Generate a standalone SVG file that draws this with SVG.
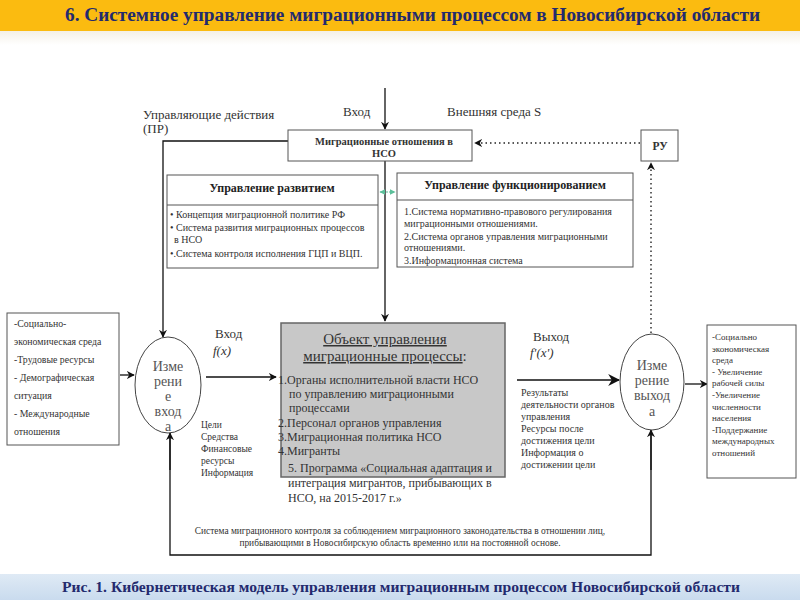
<svg xmlns="http://www.w3.org/2000/svg" width="800" height="600" viewBox="0 0 800 600" font-family="'Liberation Serif', 'Times New Roman', Tinos, 'DejaVu Serif', serif">
<style>
text{font-family:"Liberation Serif","Times New Roman",Tinos,"DejaVu Serif",serif;fill:#333}
.box{fill:#fff;stroke:#555;stroke-width:1}
.ln{fill:none;stroke:#111;stroke-width:1.3}
.dot{fill:none;stroke:#222;stroke-width:1.4;stroke-dasharray:1.5 3}
.ell{fill:#fff;stroke:#444;stroke-width:1}
.hd{font-weight:bold;font-size:12px;fill:#222}
.s9{font-size:9px}
.s10{font-size:10px}
.s98{font-size:9.8px}
.s95{font-size:9.5px}
.lbl{font-size:13px}
.et{font-size:14px;fill:#555;text-anchor:middle}
.ttl{font-weight:bold;fill:#232a6e}
</style>
<defs>
<linearGradient id="capg" x1="0" y1="0" x2="0" y2="1">
<stop offset="0" stop-color="#dfeaf5"/><stop offset="1" stop-color="#c9dbee"/>
</linearGradient>
<linearGradient id="topg" x1="0" y1="0" x2="0" y2="1">
<stop offset="0" stop-color="#f4f0e6"/><stop offset="1" stop-color="#ffffff"/>
</linearGradient>
<marker id="ar" viewBox="0 0 10 10" refX="9" refY="5" markerWidth="8" markerHeight="8" markerUnits="userSpaceOnUse" orient="auto">
<path d="M0,0 L10,5 L0,10 L3,5 z" fill="#111"/>
</marker>
<marker id="arb" viewBox="0 0 10 10" refX="9" refY="5" markerWidth="12" markerHeight="12" markerUnits="userSpaceOnUse" orient="auto">
<path d="M0,0 L10,5 L0,10 L3,5 z" fill="#111"/>
</marker>
<marker id="arg" viewBox="0 0 10 10" refX="9" refY="5" markerWidth="6" markerHeight="6" markerUnits="userSpaceOnUse" orient="auto-start-reverse">
<path d="M0,0 L10,5 L0,10 z" fill="#5cbf9a"/>
</marker>
</defs>
<rect x="0" y="0" width="800" height="600" fill="#fff"/>
<g id="title">
<rect x="0" y="0" width="800" height="31" fill="#fbbb10"/>
<rect x="0" y="31" width="800" height="14" fill="url(#topg)"/>
<text class="ttl" x="65" y="21" font-size="18" textLength="695" lengthAdjust="spacingAndGlyphs">6. Системное управление миграционными процессом в Новосибирской области</text>
</g>
<g id="caption">
<rect x="0" y="574" width="800" height="26" fill="url(#capg)"/>
<text class="ttl" x="62" y="592" font-size="14" textLength="678" lengthAdjust="spacingAndGlyphs">Рис. 1. Кибернетическая модель  управления миграционным процессом Новосибирской области</text>
</g>
<g id="labels">
<text class="lbl" x="143" y="119">Управляющие действия</text>
<text class="lbl" x="143" y="133">(ПР)</text>
<text class="lbl" x="343" y="116">Вход</text>
<text class="lbl" x="447" y="116">Внешняя среда S</text>
<text class="lbl" x="215" y="338">Вход</text>
<text class="lbl" x="213" y="355" font-style="italic">f(x)</text>
<text class="lbl" x="533" y="341">Выход</text>
<text class="lbl" x="530" y="357" font-style="italic">f'(x')</text>
<text class="s95" x="201" y="428">Цели</text>
<text class="s95" x="201" y="440">Средства</text>
<text class="s95" x="201" y="452">Финансовые</text>
<text class="s95" x="201" y="464">ресурсы</text>
<text class="s95" x="201" y="476">Информация</text>
<text class="s10" x="521" y="396">Результаты</text>
<text class="s10" x="521" y="408">деятельности органов</text>
<text class="s10" x="521" y="420">управления</text>
<text class="s10" x="521" y="432">Ресурсы после</text>
<text class="s10" x="521" y="444">достижения цели</text>
<text class="s10" x="521" y="456">Информация о</text>
<text class="s10" x="521" y="468">достижении цели</text>
<text x="400" y="534" text-anchor="middle" font-size="9.4">Система миграционного контроля за соблюдением миграционного законодательства в отношении лиц,</text>
<text x="400" y="546" text-anchor="middle" font-size="9.4">прибывающими в Новосибирскую область временно или на постоянной основе.</text>
</g>
<g id="connectors">
<line class="ln" x1="385" y1="88" x2="385" y2="129" marker-end="url(#ar)"/>
<polyline class="ln" points="288,141 163,141 163,337" marker-end="url(#ar)"/>
<line class="ln" x1="385" y1="161" x2="385" y2="321" marker-end="url(#ar)"/>
<line class="dot" x1="640" y1="143" x2="475" y2="143" marker-end="url(#ar)"/>
<line class="dot" x1="651" y1="333" x2="651" y2="163" marker-end="url(#ar)"/>
<line x1="380" y1="192" x2="395" y2="192" stroke="#5cbf9a" stroke-width="1" stroke-dasharray="2 1" marker-start="url(#arg)" marker-end="url(#arg)"/>
<line class="ln" x1="120" y1="375" x2="134" y2="375" marker-end="url(#ar)"/>
<line class="ln" x1="206" y1="377" x2="276" y2="377" marker-end="url(#ar)"/>
<line class="ln" x1="517" y1="380" x2="619" y2="380" stroke-width="3" marker-end="url(#arb)"/>
<line class="ln" x1="685" y1="384" x2="707" y2="384" marker-end="url(#ar)"/>
<polyline class="ln" points="170,433 170,555 651,555 651,430"/>
<line class="ln" x1="170" y1="470" x2="170" y2="433" marker-end="url(#ar)"/>
<line class="ln" x1="651" y1="470" x2="651" y2="430" marker-end="url(#ar)"/>
</g>
<g id="node-mig">
<rect class="box" x="288" y="130" width="184" height="31"/>
<text x="384" y="145" text-anchor="middle" font-size="10.5" font-weight="bold" fill="#222">Миграционные отношения в</text>
<text x="384" y="157" text-anchor="middle" font-size="10.5" font-weight="bold" fill="#222">НСО</text>
</g>
<g id="node-ru">
<rect class="box" x="641" y="130" width="37" height="31"/>
<text x="660" y="150" text-anchor="middle" font-size="11.5" font-weight="bold" fill="#222">РУ</text>
</g>
<g id="node-dev">
<rect class="box" x="167" y="175" width="211" height="93"/>
<line x1="167" y1="205" x2="378" y2="205" stroke="#555"/>
<text class="hd" x="272" y="192" text-anchor="middle">Управление развитием</text>
<text class="s10" x="170" y="218">• Концепция миграционной политике РФ</text>
<text class="s10" x="170" y="231">• Система развития миграционных процессов</text>
<text class="s10" x="174" y="243">в НСО</text>
<text class="s10" x="170" y="257">•.Система контроля исполнения ГЦП и ВЦП.</text>
</g>
<g id="node-func">
<rect class="box" x="397" y="173" width="236" height="94"/>
<line x1="397" y1="200" x2="633" y2="200" stroke="#555"/>
<text class="hd" x="515" y="189" text-anchor="middle">Управление функционированием</text>
<text class="s10" x="404" y="215">1.Система нормативно-правового регулирования</text>
<text class="s10" x="404" y="227">миграционными отношениями.</text>
<text class="s10" x="404" y="240">2.Система органов управления миграционными</text>
<text class="s10" x="404" y="251">отношениями.</text>
<text class="s10" x="404" y="264">3.Информационная система</text>
</g>
<g id="node-left">
<rect class="box" x="7" y="313" width="112" height="132"/>
<text class="s98" x="14" y="327">-Социально-</text>
<text class="s98" x="14" y="345">экономическая среда</text>
<text class="s98" x="14" y="363">-Трудовые ресурсы</text>
<text class="s98" x="14" y="381">- Демографическая</text>
<text class="s98" x="14" y="399">ситуация</text>
<text class="s98" x="14" y="417">- Международные</text>
<text class="s98" x="14" y="435">отношения</text>
</g>
<g id="node-in">
<ellipse class="ell" cx="168" cy="385" rx="33" ry="48"/>
<text class="et" x="168" y="371">Изме</text>
<text class="et" x="168" y="386">рени</text>
<text class="et" x="168" y="401">е</text>
<text class="et" x="168" y="416">вход</text>
<text class="et" x="168" y="431">а</text>
</g>
<g id="node-obj">
<rect x="281" y="323" width="224" height="154" fill="#c8c8c8" stroke="#666" stroke-width="1.5"/>
<text x="385" y="344" text-anchor="middle" font-size="15" fill="#333" text-decoration="underline">Объект управления</text>
<text x="385" y="361" text-anchor="middle" font-size="15" fill="#333"><tspan text-decoration="underline">миграционные процессы</tspan>:</text>
<text x="278" y="384" font-size="12">1.Органы исполнительной власти НСО</text>
<text x="289" y="398" font-size="12">по управлению миграционными</text>
<text x="289" y="412" font-size="12">процессами</text>
<text x="278" y="427" font-size="12">2.Персонал органов управления</text>
<text x="278" y="441" font-size="12">3.Миграционная политика НСО</text>
<text x="278" y="455" font-size="12">4.Мигранты</text>
<text x="288" y="472" font-size="12">5. Программа «Социальная адаптация и</text>
<text x="288" y="487" font-size="12">интеграция мигрантов, прибывающих в</text>
<text x="288" y="502" font-size="12">НСО, на 2015-2017 г.»</text>
</g>
<g id="node-out">
<ellipse class="ell" cx="652" cy="382" rx="32" ry="48"/>
<text class="et" x="652" y="370">Изме</text>
<text class="et" x="652" y="385">рение</text>
<text class="et" x="652" y="400">выход</text>
<text class="et" x="652" y="416">а</text>
</g>
<g id="node-right">
<rect class="box" x="707" y="325" width="89" height="153"/>
<text class="s9" x="712" y="340">-Социально</text>
<text class="s9" x="712" y="352">экономическая</text>
<text class="s9" x="712" y="363">среда</text>
<text class="s9" x="712" y="375">- Увеличение</text>
<text class="s9" x="712" y="386">рабочей силы</text>
<text class="s9" x="712" y="398">-Увеличение</text>
<text class="s9" x="712" y="410">численности</text>
<text class="s9" x="712" y="421">населения</text>
<text class="s9" x="712" y="433">-Поддержание</text>
<text class="s9" x="712" y="444">международных</text>
<text class="s9" x="712" y="456">отношений</text>
</g>
</svg>
